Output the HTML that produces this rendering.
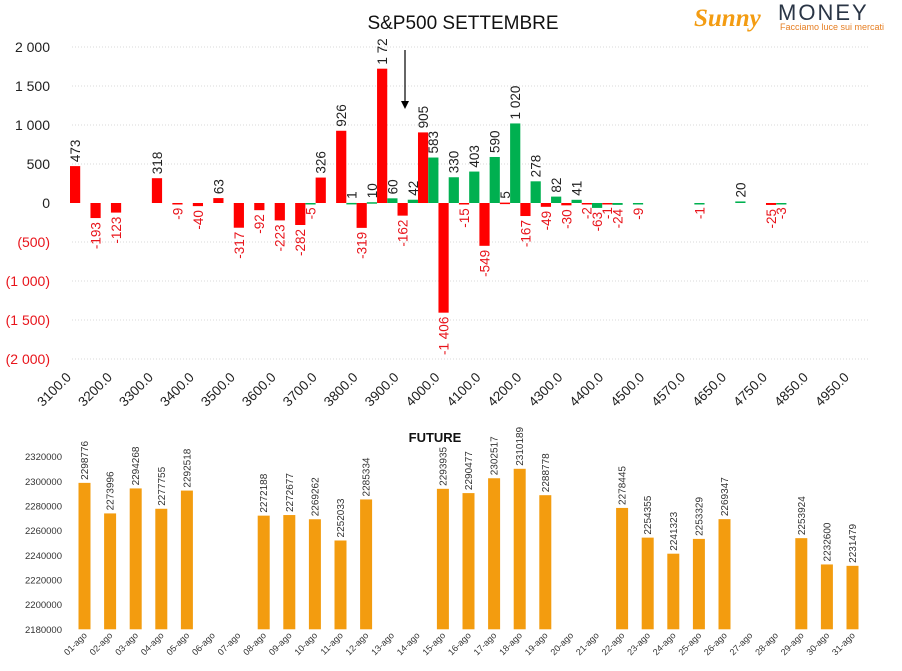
<!DOCTYPE html>
<html><head><meta charset="utf-8"><style>
html,body{margin:0;padding:0;background:#fff;width:902px;height:671px;overflow:hidden}
svg{display:block;font-family:"Liberation Sans","DejaVu Sans",sans-serif}
</style></head><body>
<svg id="svg" width="902" height="671" viewBox="0 0 902 671">
<defs><clipPath id="topclip"><rect x="0" y="39" width="902" height="400"/></clipPath></defs>
<text x="463" y="29" font-size="19" text-anchor="middle" fill="#111">S&amp;P500 SETTEMBRE</text>
<g>
<text x="694" y="26" font-size="25" font-style="italic" font-weight="bold" fill="#f39c12" font-family="Liberation Serif, serif">Sunny</text>
<text x="778" y="20" font-size="22" fill="#2a3545" letter-spacing="2">MONEY</text>
<text x="780" y="30" font-size="9" fill="#e67e22">Facciamo luce sui mercati</text>
</g>
<g id="topg" clip-path="url(#topclip)"></g>
<g id="bottom"></g>
<line x1="405" y1="50" x2="405" y2="102" stroke="#000" stroke-width="1.2"/>
<polygon points="401,101 409,101 405,109" fill="#000"/>
</svg>
<script>
const NS='http://www.w3.org/2000/svg';
const topCats=['3100.0','','3200.0','','3300.0','','3400.0','','3500.0','','3600.0','','3700.0','','3800.0','','3900.0','','4000.0','','4100.0','','4200.0','','4300.0','','4400.0','','4500.0','','4570.0','','4650.0','','4750.0','','4850.0','','4950.0'];
const redVals=[473,-193,-123,null,318,-9,-40,63,-317,-92,-223,-282,326,926,-319,1722,-162,905,-1406,-15,-549,5,-167,-49,-30,-2,-1,null,null,null,null,null,null,null,-25,null,null,null,null];
const greenVals=[null,null,null,null,null,null,null,null,null,null,null,-5,null,1,10,60,42,583,330,403,590,1020,278,82,41,-63,-24,-9,null,null,-1,null,20,null,-3,null,null,null,null];
const topTicks=[2000,1500,1000,500,0,-500,-1000,-1500,-2000];
const topTickLabels=['2 000','1 500','1 000','500','0','(500)','(1 000)','(1 500)','(2 000)'];

const futCats=[];for(let i=1;i<=31;i++)futCats.push((i<10?'0':'')+i+'-ago');
const futVals=[2298776,2273996,2294268,2277755,2292518,null,null,2272188,2272677,2269262,2252033,2285334,null,null,2293935,2290477,2302517,2310189,2288778,null,null,2278445,2254355,2241323,2253329,2269347,null,null,2253924,2232600,2231479];
const futTicks=[2320000,2300000,2280000,2260000,2240000,2220000,2200000,2180000];

function el(tag,attrs,parent,txt){const e=document.createElementNS(NS,tag);for(const k in attrs)e.setAttribute(k,attrs[k]);if(txt!==undefined)e.textContent=txt;parent.appendChild(e);return e;}
function fmt(v){const s=Math.abs(v).toString().replace(/\B(?=(\d{3})+(?!\d))/g,' ');return (v<0?'-':'')+s;}

const topG=document.getElementById('topg');
const X0=69.8,CW=20.47;
const yS=v=>203-v*0.078;
topTicks.forEach((t,i)=>{
  if(t!==0){const g=el('line',{x1:72,x2:868,y1:yS(t),y2:yS(t),stroke:'#d9d9d9','stroke-dasharray':'1,2'},topG);
  
  }
  const l=el('text',{x:50,y:yS(t)+5,'font-size':14,'text-anchor':'end',fill:t<0?'#e8141b':'#222'},topG,topTickLabels[i]);
  
  
});
function topBar(v,cx,color,name){
  if(v===null)return;
  const y0=yS(0),y1=yS(v);
  const r=el('rect',{x:cx-5,y:Math.min(y0,y1),width:10.2,height:Math.max(Math.abs(y1-y0),1.5),fill:color},topG);
  
  
  let tx=cx+5,ty,t;
  if(v>=0){ty=Math.min(y0,y1)-4;t=el('text',{x:tx,y:ty,'font-size':13.5,fill:'#222',transform:`rotate(-90 ${tx} ${ty})`},topG,fmt(v));}
  else{ty=Math.max(y0,y1)+4;t=el('text',{x:tx,y:ty,'font-size':13.5,fill:'#e8141b','text-anchor':'end',transform:`rotate(-90 ${tx} ${ty})`},topG,fmt(v));}
  
  
}
topCats.forEach((c,i)=>{
  const rc=X0+i*CW+5.2;
  topBar(redVals[i],rc,'#ff0000','red-bar');
  topBar(greenVals[i],rc+10.24,'#00b050','green-bar');
  if(c){const ax=rc-3,ay=378;
    const t=el('text',{x:ax,y:ay,'font-size':13.5,fill:'#222','text-anchor':'end',transform:`rotate(-45 ${ax} ${ay})`},topG,c);
    
    }
});

const bot=document.getElementById('bottom');
const by=v=>629.3-(v-2180000)/140000*172.6;
const bx=i=>84.5+i*25.6;
const ft=el('text',{x:435,y:442,'font-size':13,'font-weight':'bold','text-anchor':'middle',fill:'#111'},bot,'FUTURE');


futTicks.forEach(t=>{
  const l=el('text',{x:62,y:by(t)+3.5,'font-size':9.5,'text-anchor':'end',fill:'#333'},bot,String(t));
  
  
});
futCats.forEach((c,i)=>{
  const cx=bx(i),v=futVals[i];
  if(v!==null){
    const r=el('rect',{x:cx-6,y:by(v),width:12,height:629.3-by(v),fill:'#f39c0f'},bot);
    
    
    const tx=cx+3.5,ty=by(v)-3;
    const t=el('text',{x:tx,y:ty,'font-size':10,fill:'#333',transform:`rotate(-90 ${tx} ${ty})`},bot,String(v));
    
    
  }
  const ax=cx+3,ay=636;
  const l=el('text',{x:ax,y:ay,'font-size':9,fill:'#333','text-anchor':'end',transform:`rotate(-45 ${ax} ${ay})`},bot,c);
  
  
});
</script>
</body></html>
